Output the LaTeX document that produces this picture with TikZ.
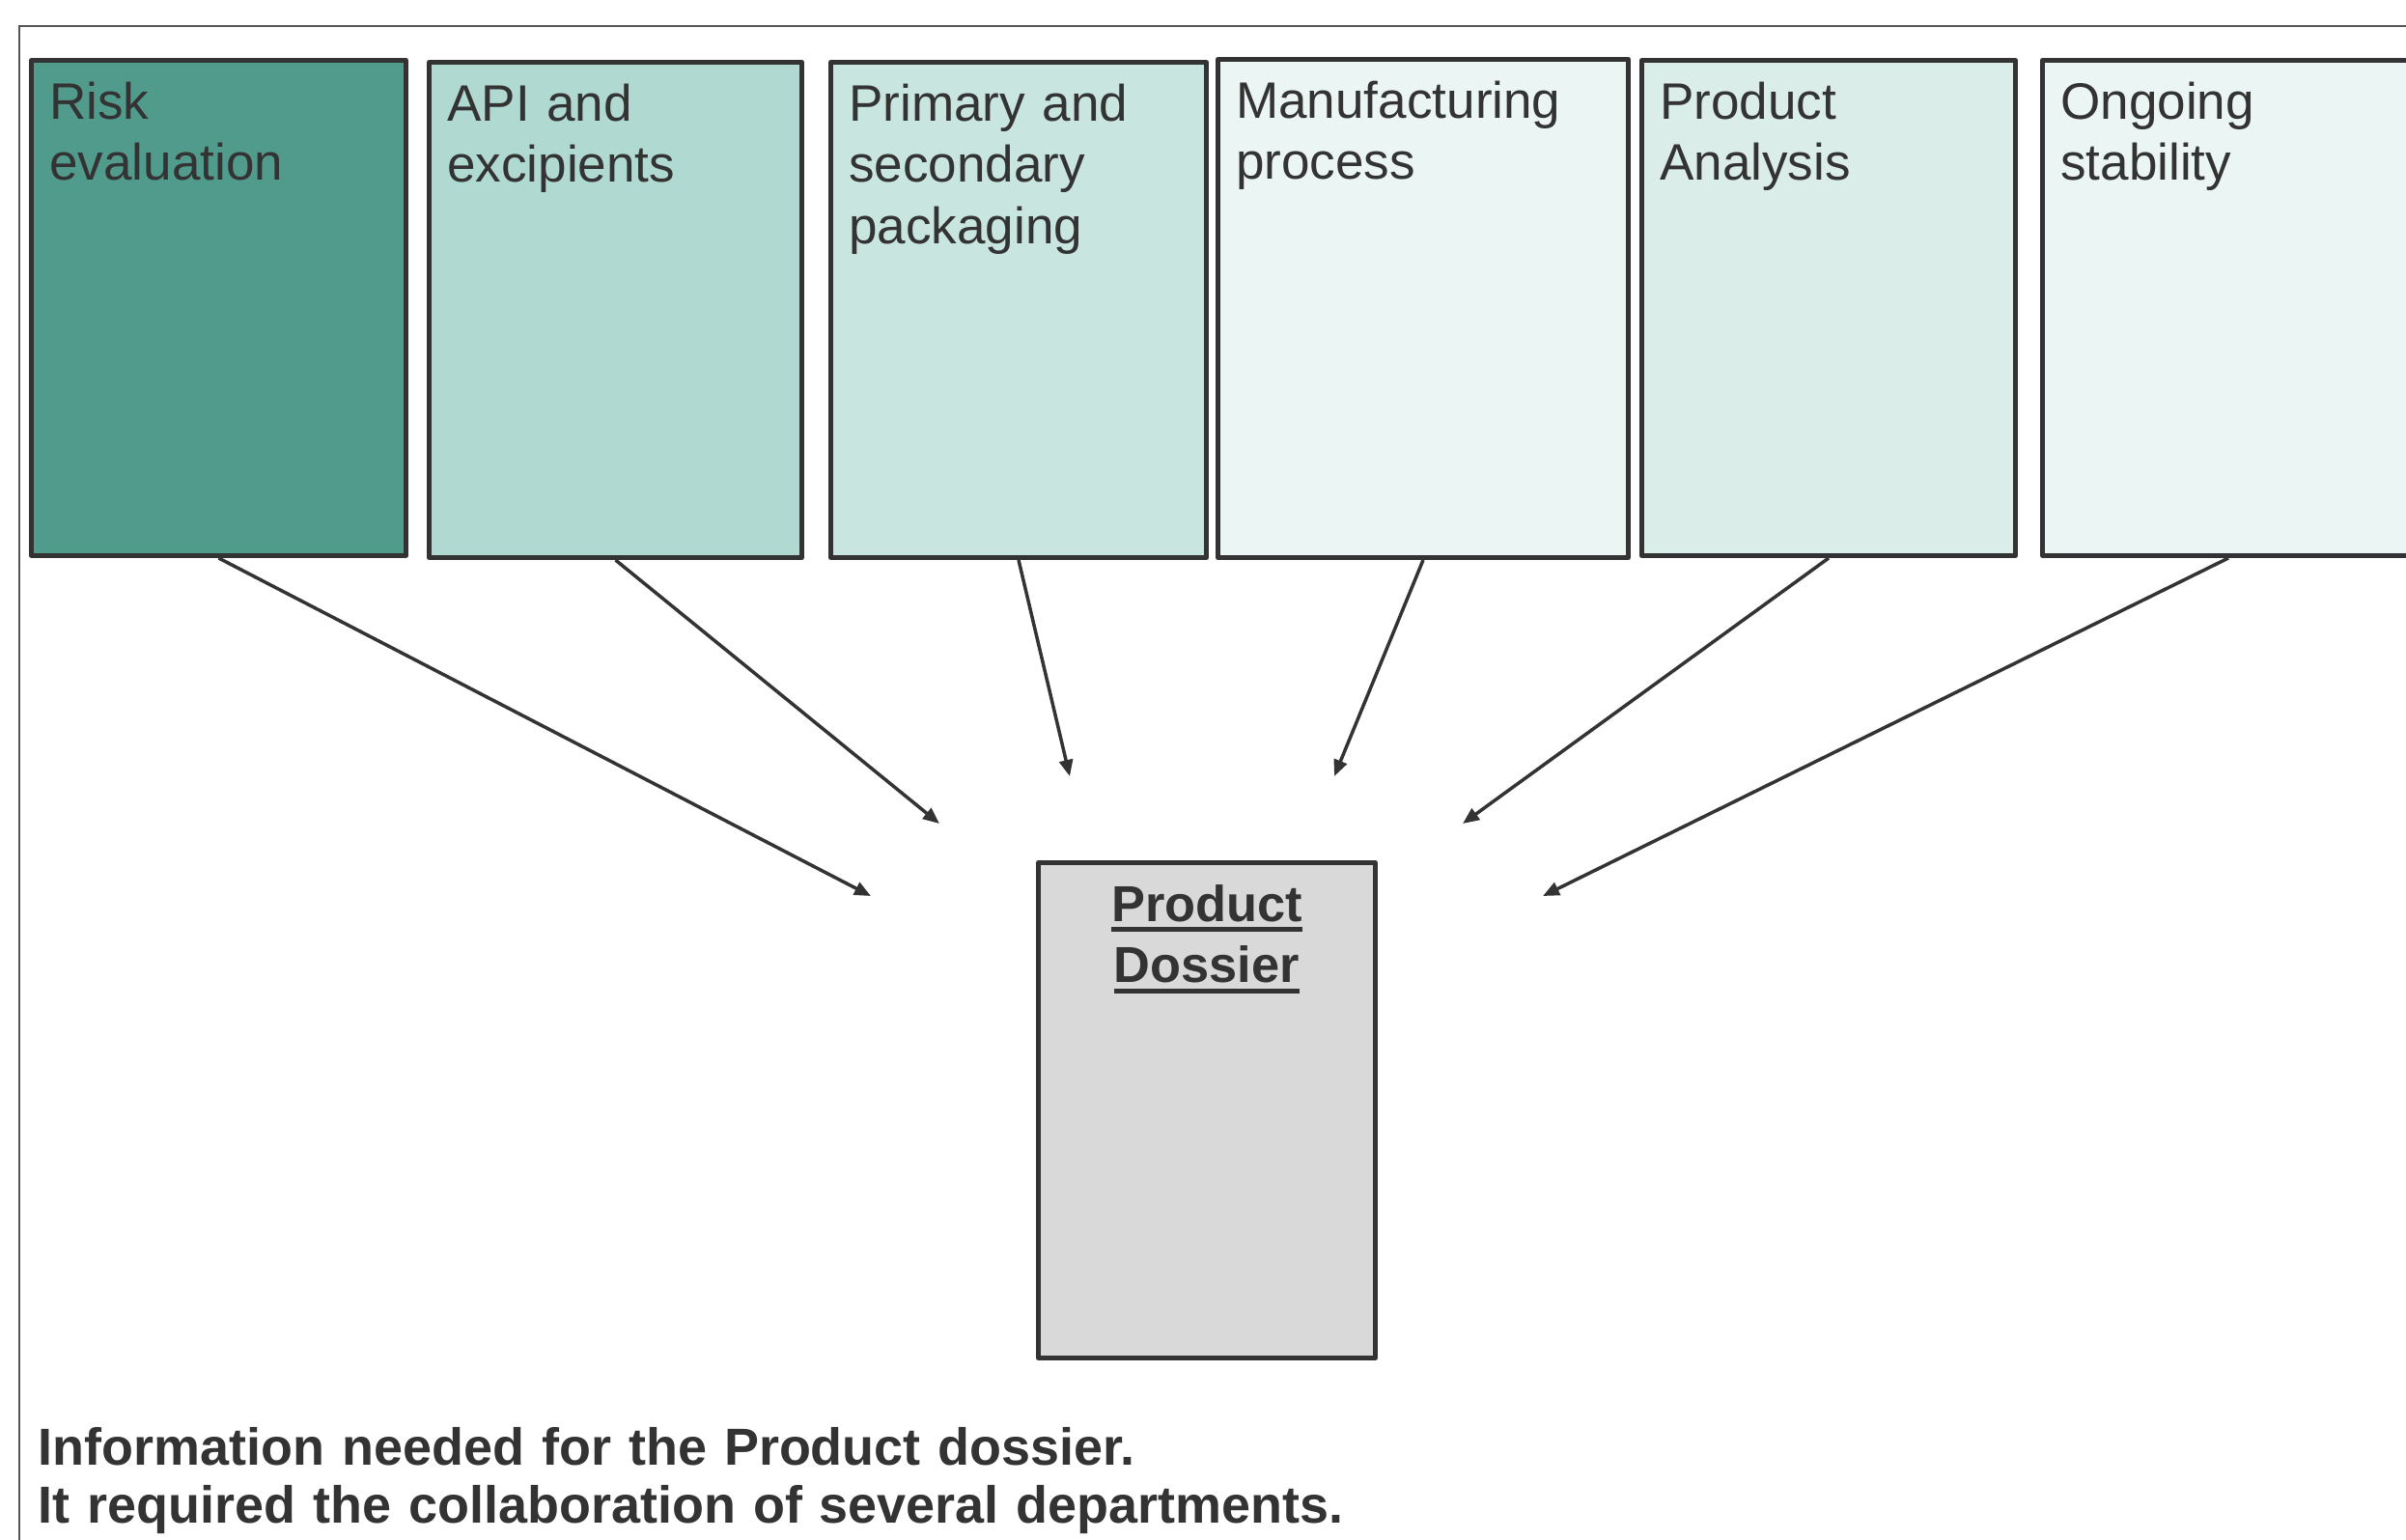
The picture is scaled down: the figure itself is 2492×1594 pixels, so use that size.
\documentclass[tikz,border=0pt]{standalone}
\usepackage{fontspec}
\setmainfont{Liberation Sans}
\usetikzlibrary{arrows.meta}

\definecolor{ink}{HTML}{333333}
\definecolor{framegray}{HTML}{555555}
\definecolor{tealdark}{HTML}{519B8D}
\definecolor{tealmid}{HTML}{B0DAD1}
\definecolor{teallight}{HTML}{C9E5E0}
\definecolor{tealpale}{HTML}{EBF5F3}
\definecolor{tealsoft}{HTML}{DAEDE9}
\definecolor{dossiergray}{HTML}{D9D9D9}

% heavy underline placed just below the baseline
\newcommand\heavyul[1]{\leavevmode\setbox0\hbox{#1}\rlap{\rule[-3.1pt]{\wd0}{1.42pt}}\box0}

\tikzset{
  deptbox/.style={rectangle, draw=ink, line width=0.5mm, line join=round,
    inner sep=0pt, anchor=north west, minimum height=51.3mm},
  boxlabel/.style={anchor=base west, inner sep=0pt, text=ink, align=left,
    text width=40mm, font=\fontsize{15.1pt}{18.2pt}\selectfont},
  dossierlabel/.style={anchor=base, inner sep=0pt, text=ink, align=center,
    text width=34.9mm, font=\fontsize{14.9pt}{18.2pt}\selectfont\bfseries},
  captionlabel/.style={anchor=base west, inner sep=0pt, text=ink, align=left,
    text width=200mm, font=\fontsize{15.35pt}{17.07pt}\selectfont\bfseries},
  feed/.style={draw=ink, line width=0.35mm,
    -{Triangle[length=1.7mm, width=1.4mm]}},
}

\begin{document}
\begin{tikzpicture}[x=0.1mm, y=-0.1mm]
  \path[use as bounding box] (0,0) rectangle (2492,1594);
  \clip (0,0) rectangle (2492,1594);

  % outer frame (only its top and left edges fall inside the page)
  \draw[framegray, line width=0.2mm] (19.5,1620) -- (19.5,26.5) -- (2520,26.5);

  % department boxes, placed by their outer top-left corners
  \node[deptbox, fill=tealdark,  minimum width=38.8mm] (risk)   at (30,60)   {};
  \node[deptbox, fill=tealmid,   minimum width=38.6mm] (api)    at (442,62)  {};
  \node[deptbox, fill=teallight, minimum width=38.9mm] (pack)   at (858,62)  {};
  \node[deptbox, fill=tealpale,  minimum width=42.5mm, minimum height=51.6mm] (manu) at (1259,59) {};
  \node[deptbox, fill=tealsoft,  minimum width=38.7mm] (anal)   at (1698,60) {};
  \node[deptbox, fill=tealpale,  minimum width=38.5mm] (stab)   at (2113,60) {};

  \node[boxlabel] (riskt) at ([shift={(20.5,63)}]risk.north west) {Risk\\evaluation};
  \node[boxlabel] (apit)  at ([shift={(20.5,63)}]api.north west)  {API and\\excipients};
  \node[boxlabel] (packt) at ([shift={(20.5,63)}]pack.north west) {Primary and\\secondary\\packaging};
  \node[boxlabel] (manut) at ([shift={(20.5,63)}]manu.north west) {Manufacturing\\process};
  \node[boxlabel] (analt) at ([shift={(20.5,63)}]anal.north west) {Product\\Analysis};
  \node[boxlabel] (stabt) at ([shift={(20.5,63)}]stab.north west) {Ongoing\\stability};

  % the dossier that collects everything
  \node[deptbox, fill=dossiergray, minimum width=34.9mm] (dossier) at (1073,891) {};
  \node[dossierlabel] (dossiert) at ([shift={(0,63)}]dossier.north)
    {\heavyul{Product}\\\heavyul{Dossier}};

  % arrow tips stop short of the dossier
  \coordinate (tipA) at (902,928);
  \coordinate (tipB) at (973,853);
  \coordinate (tipC) at (1108,804);
  \coordinate (tipD) at (1382,804);
  \coordinate (tipE) at (1515,853);
  \coordinate (tipF) at (1598,928);

  \draw[feed] (risk.south) -- (tipA);
  \draw[feed] (api.south)  -- (tipB);
  \draw[feed] (pack.south) -- (tipC);
  \draw[feed] (manu.south) -- (tipD);
  \draw[feed] (anal.south) -- (tipE);
  \draw[feed] (stab.south) -- (tipF);

  \node[captionlabel] (caption) at (39,1517)
    {Information needed for the Product dossier.\\It required the collaboration of several departments.};
\end{tikzpicture}
\end{document}
